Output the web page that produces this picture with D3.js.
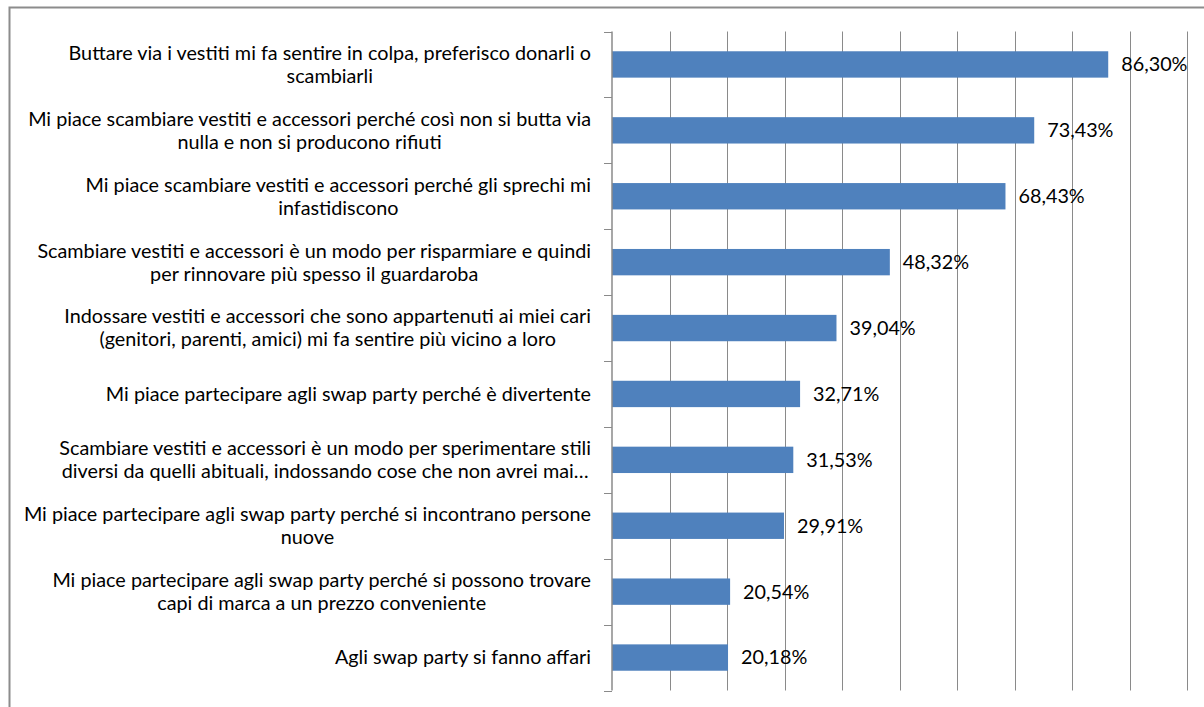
<!DOCTYPE html>
<html>
<head>
<meta charset="utf-8">
<script src="https://cdn.jsdelivr.net/npm/d3@7"></script>
<style>
    body { margin: 0; background: #fff; }
    svg { display: block; }
    .label, .value { font-family: Lato, "Open Sans", sans-serif; fill: #000; }
</style>
</head>
<body>
<script>
(function(){

//category labels, one entry per bar, lines split as in the original chart
var labels = [
    ["Buttare via i vestiti mi fa sentire in colpa, preferisco donarli o", "scambiarli"],
    ["Mi piace scambiare vestiti e accessori perché così non si butta via", "nulla e non si producono rifiuti"],
    ["Mi piace scambiare vestiti e accessori perché gli sprechi mi", "infastidiscono"],
    ["Scambiare vestiti e accessori è un modo per risparmiare e quindi", "per rinnovare più spesso il guardaroba"],
    ["Indossare vestiti e accessori che sono appartenuti ai miei cari", "(genitori, parenti, amici) mi fa sentire più vicino a loro"],
    ["Mi piace partecipare agli swap party perché è divertente"],
    ["Scambiare vestiti e accessori è un modo per sperimentare stili", "diversi da quelli abituali, indossando cose che non avrei mai…"],
    ["Mi piace partecipare agli swap party perché si incontrano persone", "nuove"],
    ["Mi piace partecipare agli swap party perché si possono trovare", "capi di marca a un prezzo conveniente"],
    ["Agli swap party si fanno affari"]
];

//percent values
var values = [86.30, 73.43, 68.43, 48.32, 39.04, 32.71, 31.53, 29.91, 20.54, 20.18];

//gridline positions (percent)
var gridTicks = [10, 20, 30, 40, 50, 60, 70, 80, 90, 100];

var width = 1204,
    height = 707;

//plot area
var left = 612, right = 1187, top = 31.5, bottom = 690.5;
var fontSize = 19.8;

var svg = d3.select("body")
    .append("svg")
    .attr("width", width)
    .attr("height", height);

//outer chart border (right and bottom fall off the picture)
svg.append("rect")
    .attr("x", 9.5)
    .attr("y", 7.5)
    .attr("width", 1220)
    .attr("height", 720)
    .attr("fill", "#fff")
    .attr("stroke", "#8c8c8c")
    .attr("stroke-width", 2);

var xScale = d3.scaleLinear()
    .domain([0, 100])
    .range([left, right]);

var yScale = d3.scaleBand()
    .domain(d3.range(values.length))
    .range([top, bottom])
    .paddingInner(0.6)
    .paddingOuter(0.3);

var step = yScale.step();

//vertical gridlines
svg.selectAll(".grid")
    .data(gridTicks)
    .enter()
    .append("line")
    .attr("class", "grid")
    .attr("x1", function(d){ return Math.round(xScale(d)) + 0.5; })
    .attr("x2", function(d){ return Math.round(xScale(d)) + 0.5; })
    .attr("y1", top)
    .attr("y2", bottom)
    .attr("stroke", "#8a8a8a")
    .attr("stroke-width", 1);

//bars
svg.selectAll(".bar")
    .data(values)
    .enter()
    .append("rect")
    .attr("class", "bar")
    .attr("x", xScale(0))
    .attr("y", function(d, i){ return yScale(i); })
    .attr("width", function(d){ return xScale(d) - xScale(0); })
    .attr("height", yScale.bandwidth())
    .attr("fill", "#4f81bd");

//category axis line and ticks
svg.append("line")
    .attr("x1", left).attr("x2", left)
    .attr("y1", top).attr("y2", bottom)
    .attr("stroke", "#8a8a8a")
    .attr("stroke-width", 1.5);

var tickYs = d3.range(values.length + 1).map(function(i){ return top + i * step; });
svg.selectAll(".tick")
    .data(tickYs)
    .enter()
    .append("line")
    .attr("class", "tick")
    .attr("x1", left - 8).attr("x2", left)
    .attr("y1", function(d){ return Math.round(d) + 0.5; })
    .attr("y2", function(d){ return Math.round(d) + 0.5; })
    .attr("stroke", "#8a8a8a")
    .attr("stroke-width", 1);

//category labels, each block centered on its own widest line, right edge at 591
var lineH = 23;
var labelGroups = svg.selectAll(".labelGroup")
    .data(labels)
    .enter()
    .append("g")
    .attr("class", "labelGroup");

labelGroups.each(function(lines, i){
    var g = d3.select(this);
    var cy = yScale(i) + yScale.bandwidth() / 2;
    var texts = g.selectAll("text")
        .data(lines)
        .enter()
        .append("text")
        .attr("class", "label")
        .attr("font-size", fontSize)
        .attr("y", function(d, j){ return cy + (j - (lines.length - 1) / 2) * lineH; })
        .attr("dy", "0.35em")
        .text(function(d){ return d; });
    var maxW = 0;
    texts.each(function(){ maxW = Math.max(maxW, this.getComputedTextLength()); });
    texts.attr("text-anchor", "middle").attr("x", 591 - maxW / 2);
});

//value labels
svg.selectAll(".value")
    .data(values)
    .enter()
    .append("text")
    .attr("class", "value")
    .attr("font-size", fontSize)
    .attr("x", function(d){ return xScale(d) + 13; })
    .attr("y", function(d, i){ return yScale(i) + yScale.bandwidth() / 2; })
    .attr("dy", "0.35em")
    .text(function(d){ return d.toFixed(2).replace(".", ",") + "%"; });

})();
</script>
</body>
</html>
